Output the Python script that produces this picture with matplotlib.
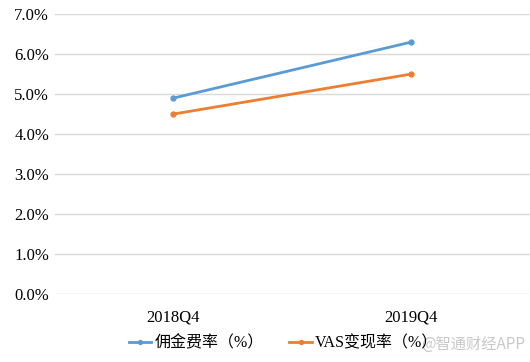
import matplotlib.pyplot as plt
from matplotlib.ticker import FuncFormatter

quarters = ['2018Q4', '2019Q4']
commission_rate = [4.9, 6.3]
vas_rate = [4.5, 5.5]
series_names = ['佣金费率（%）', 'VAS变现率（%）']

plt.rcParams['font.family'] = ['Liberation Serif', 'Noto Sans CJK SC']

fig = plt.figure(figsize=(5.3, 3.62), dpi=100)
ax = fig.add_axes([0.103, 0.188, 0.897, 0.773])

x = range(len(quarters))
ax.plot(x, commission_rate, color='#5b9bd5', lw=2.0, marker='o', ms=3.5, label=series_names[0])
ax.plot(x, vas_rate, color='#ed7d31', lw=2.0, marker='o', ms=3.5, label=series_names[1])

ax.set_xlim(-0.5, 1.5)
ax.set_ylim(0, 7)
ax.set_yticks([i for i in range(8)])
ax.yaxis.set_major_formatter(FuncFormatter(lambda v, p: f'{v:.1f}%'))
ax.set_xticks(list(x))
ax.set_xticklabels(quarters)
ax.tick_params(axis='both', length=0, labelsize=12, colors='#000000')
ax.tick_params(axis='x', pad=11)
ax.tick_params(axis='y', pad=4)
ax.grid(axis='y', color='#d9d9d9', lw=1)
ax.set_axisbelow(True)
for s in ax.spines.values():
    s.set_visible(False)

fig.legend(loc='lower center', bbox_to_anchor=(0.535, -0.01), ncol=2, frameon=False,
           fontsize=11.5, handlelength=1.4, handletextpad=0.2, columnspacing=1.6,
           markerscale=0.8)

fig.text(0.99, 0.025, '@智通财经APP', ha='right', va='bottom', fontsize=11,
         color='#c8c8c8', family=['Noto Sans CJK SC', 'DejaVu Sans'])

fig.savefig('out.png', dpi=100)
